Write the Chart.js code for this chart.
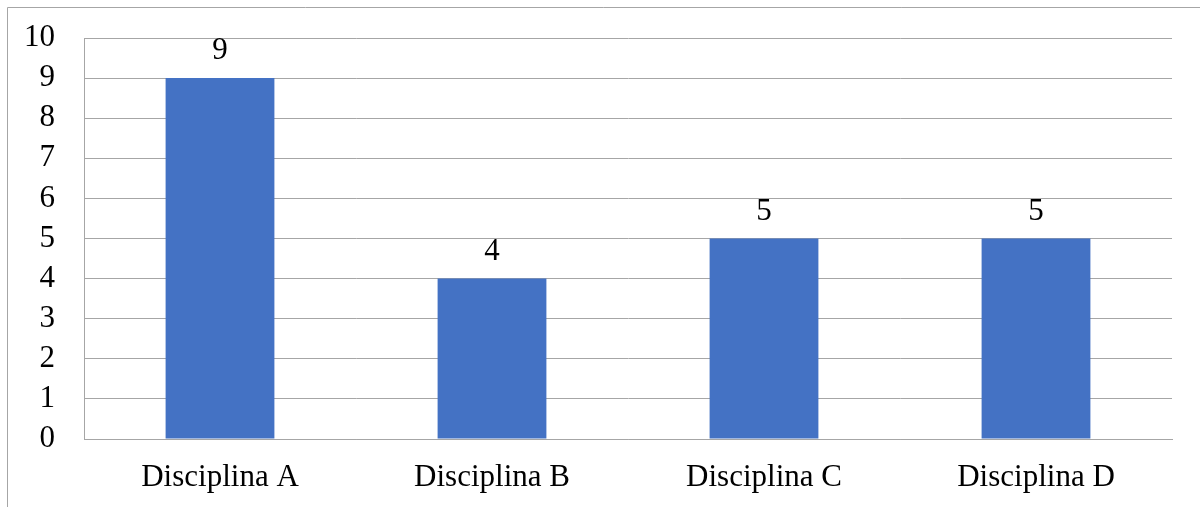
<!DOCTYPE html>
<html>
<head>
<meta charset="utf-8">
<style>
  html, body { margin: 0; padding: 0; background: #ffffff; }
  #wrap { position: relative; width: 1200px; height: 507px; }
</style>
<script src="https://cdn.jsdelivr.net/npm/chart.js@4/dist/chart.umd.min.js"></script>
</head>
<body>
<div id="wrap"><canvas id="chart" width="1200" height="507"></canvas></div>
<script>
const categories = ['Disciplina A', 'Disciplina B', 'Disciplina C', 'Disciplina D'];
const counts = [9, 4, 5, 5];
const yTicks = [0, 1, 2, 3, 4, 5, 6, 7, 8, 9, 10];

const FONT = "'Liberation Serif', 'Times New Roman', serif";
const GRID = '#a6a6a6';

// Thin outer frame along the top and left edges
const framePlugin = {
  id: 'frame',
  beforeDraw(chart) {
    const ctx = chart.ctx;
    ctx.save();
    ctx.fillStyle = '#ffffff';
    ctx.fillRect(0, 0, chart.width, chart.height);
    ctx.strokeStyle = '#a6a6a6';
    ctx.lineWidth = 1;
    ctx.beginPath();
    ctx.moveTo(7.5, chart.height);
    ctx.lineTo(7.5, 7.5);
    ctx.lineTo(chart.width, 7.5);
    ctx.stroke();
    ctx.restore();
  }
};

// Value printed above each bar
const valueLabels = {
  id: 'valueLabels',
  afterDatasetsDraw(chart) {
    const ctx = chart.ctx;
    const meta = chart.getDatasetMeta(0);
    ctx.save();
    ctx.font = '31px ' + FONT;
    ctx.fillStyle = '#000000';
    ctx.textAlign = 'center';
    ctx.textBaseline = 'alphabetic';
    meta.data.forEach((bar, i) => {
      ctx.fillText(String(counts[i]), bar.x, bar.y - 19);
    });
    ctx.restore();
  }
};

new Chart(document.getElementById('chart'), {
  type: 'bar',
  data: {
    labels: categories,
    datasets: [{
      data: counts,
      backgroundColor: '#4472c4',
      borderWidth: 0,
      categoryPercentage: 1.0,
      barPercentage: 0.4
    }]
  },
  options: {
    responsive: false,
    animation: false,
    events: [],
    layout: { padding: { left: 0, top: 38, right: 28, bottom: 0 } },
    plugins: {
      legend: { display: false },
      tooltip: { enabled: false }
    },
    scales: {
      x: {
        grid: { display: false, drawTicks: false },
        border: { display: true, color: GRID, width: 1 },
        ticks: {
          color: '#000000',
          font: { family: FONT, size: 31 },
          padding: 20,
          maxRotation: 0
        },
        afterFit(scale) {
          scale.height = 68;
          scale.paddingLeft = 0;
          scale.paddingRight = 0;
        }
      },
      y: {
        min: yTicks[0],
        max: yTicks[yTicks.length - 1],
        grid: { color: GRID, lineWidth: 1, drawTicks: false },
        border: { display: true, color: GRID, width: 1 },
        ticks: {
          stepSize: yTicks[1] - yTicks[0],
          autoSkip: false,
          color: '#000000',
          font: { family: FONT, size: 31 },
          padding: 29
        },
        afterFit(scale) {
          scale.width = 84;
          scale.paddingTop = 0;
          scale.paddingBottom = 0;
        }
      }
    }
  },
  plugins: [framePlugin, valueLabels]
});
</script>
</body>
</html>
